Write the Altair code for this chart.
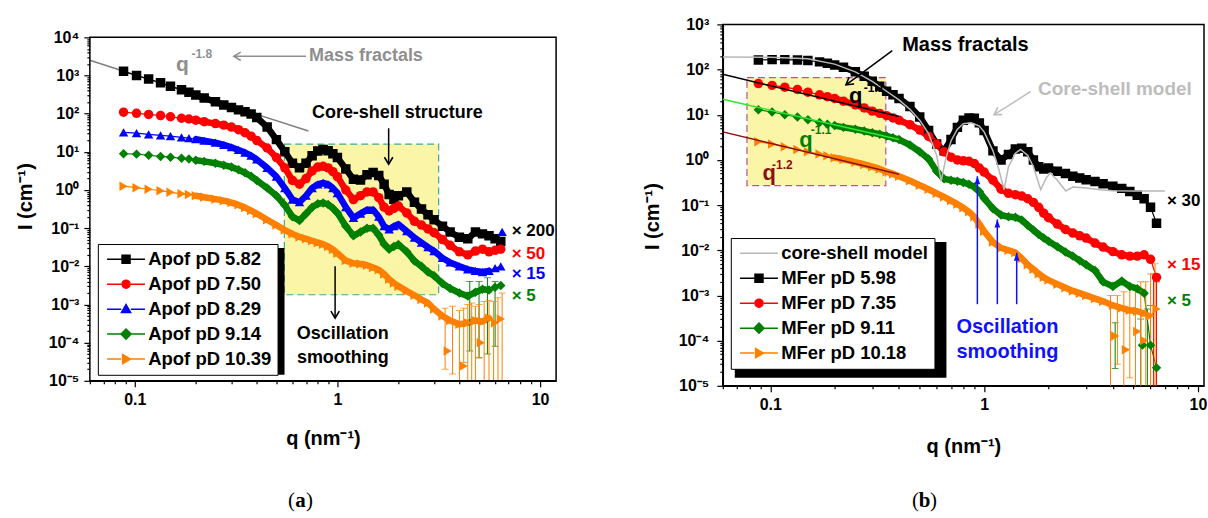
import altair as alt
import pandas as pd

FONT = "Arial, 'Liberation Sans', sans-serif"
SERIF = "'Times New Roman', 'Liberation Serif', serif"

# ---------------- shared q grid (nm^-1) ----------------
q_grid = [0.088, 0.102, 0.117, 0.134, 0.15, 0.17, 0.185, 0.2, 0.22, 0.25, 0.275, 0.3, 0.325, 0.35, 0.375, 0.4,
          0.45, 0.5, 0.55, 0.6, 0.65, 0.7, 0.75, 0.8, 0.85, 0.9, 0.95, 1.0,
          1.1, 1.2, 1.3, 1.4, 1.5, 1.6, 1.7, 1.8, 1.9, 2.0,
          2.2, 2.4, 2.6, 2.8, 3.0, 3.3, 3.6, 4.0, 4.4, 4.8, 5.2, 5.6, 6.0, 6.4]

# ---------------- panel (a): apoferritin, log10 I (cm^-1) ----------------
apof_names = ["Apof pD 5.82", "Apof pD 7.50", "Apof pD 8.29", "Apof pD 9.14", "Apof pD 10.39"]
apof_colors = ["#000000", "#ff0000", "#0000ff", "#008000", "#ff8000"]
apof_shapes = ["square", "circle", "triangle-up", "diamond", "triangle-right"]

apof_582 = [3.11, 3.00, 2.91, 2.81, 2.72, 2.63, 2.56, 2.49, 2.41, 2.31, 2.23, 2.16, 2.10, 2.05, 1.99, 1.90,
            1.65, 1.32, 1.00, 0.70, 0.58, 0.70, 0.90, 1.02, 1.06, 1.03, 0.95, 0.85,
            0.55, 0.28, 0.26, 0.40, 0.46, 0.38, 0.15, -0.12, -0.24, -0.15,
            -0.05, -0.32, -0.50, -0.65, -0.78, -0.95, -1.10, -1.24, -1.28, -1.10, -1.15, -1.20, -1.28, -1.35]
apof_750 = [2.04, 2.01, 1.98, 1.95, 1.92, 1.88, 1.86, 1.83, 1.79, 1.74, 1.70, 1.65, 1.58, 1.50, 1.41, 1.30,
            1.10, 0.85, 0.58, 0.25, 0.15, 0.30, 0.50, 0.60, 0.62, 0.58, 0.48, 0.35,
            0.00, -0.25, -0.15, -0.05, -0.05, -0.20, -0.45, -0.55, -0.48, -0.42,
            -0.60, -0.82, -0.92, -1.02, -1.12, -1.30, -1.45, -1.62, -1.70, -1.60, -1.55, -1.62, -1.58, -1.55]
apof_829 = [1.51, 1.49, 1.46, 1.43, 1.41, 1.38, 1.36, 1.33, 1.29, 1.24, 1.18, 1.12, 1.05, 0.98, 0.90, 0.80,
            0.58, 0.35, 0.05, -0.25, -0.32, -0.15, 0.05, 0.15, 0.19, 0.15, 0.05, -0.08,
            -0.45, -0.73, -0.62, -0.52, -0.52, -0.70, -0.95, -1.03, -0.95, -0.90,
            -1.08, -1.25, -1.38, -1.50, -1.60, -1.78, -1.90, -2.00, -2.08, -2.12, -2.15, -2.12, -2.05, -2.00]
apof_914 = [0.95, 0.94, 0.91, 0.88, 0.86, 0.83, 0.81, 0.78, 0.75, 0.70, 0.65, 0.60, 0.53, 0.45, 0.36, 0.25,
            0.05, -0.15, -0.40, -0.70, -0.80, -0.62, -0.45, -0.36, -0.34, -0.38, -0.48, -0.60,
            -0.95, -1.20, -1.10, -1.00, -1.00, -1.18, -1.42, -1.55, -1.48, -1.43,
            -1.62, -1.86, -2.00, -2.15, -2.25, -2.45, -2.58, -2.70, -2.78, -2.68, -2.60, -2.62, -2.55, -2.50]
apof_1039 = [0.10, 0.06, 0.02, -0.02, -0.06, -0.10, -0.12, -0.15, -0.19, -0.24, -0.28, -0.33, -0.39, -0.46, -0.54, -0.62,
             -0.78, -0.92, -1.05, -1.15, -1.23, -1.28, -1.33, -1.38, -1.42, -1.48, -1.56, -1.66,
             -1.85, -1.92, -1.94, -1.97, -2.03, -2.09, -2.20, -2.34, -2.44, -2.52,
             -2.65, -2.76, -2.87, -2.96, -3.12, -3.30, -3.42, -3.52, -3.48, -3.42, -3.45, -3.36, -3.48, -3.38]

a_err_q = [3.4, 3.7, 4.0, 4.2, 4.4, 4.6, 4.8, 5.0, 5.3, 5.6, 5.9, 6.2, 6.5, 4.5, 5.0, 5.5, 6.0]
a_err_lo = [2.0e-5, 1.5e-5, 5e-6, 3e-5, 5e-6, 5e-6, 5e-6, 4e-5, 5e-6, 5e-6, 5e-6, 5e-6, 5e-6, 6e-5, 4e-5, 5e-5, 8e-5]
a_err_hi = [8e-4, 9e-4, 7e-4, 8e-4, 1e-3, 1.1e-3, 9e-4, 1e-3, 1.2e-3, 1.3e-3, 1.2e-3, 1.5e-3, 2e-3, 4e-3, 4e-3, 5e-3, 4e-3]
a_err_series = ["Apof pD 10.39"] * 13 + ["Apof pD 9.14"] * 4
a_extra_q = [3.5, 4.2, 5.1, 6.5]
a_extra_log = [-4.22, -4.61, -4.00, -1.10]
a_extra_series = ["Apof pD 10.39", "Apof pD 10.39", "Apof pD 10.39", "Apof pD 8.29"]

# ---------------- panel (b): magnetoferritin ----------------
mfer_names = ["core-shell model", "MFer pD 5.98", "MFer pD 7.35", "MFer pD 9.11", "MFer pD 10.18"]
mfer_colors = ["#b8b8b8", "#000000", "#ff0000", "#008000", "#ff8000"]
mfer_shapes = ["square", "circle", "diamond", "triangle-right"]

mfer_598 = [2.21, 2.22, 2.22, 2.21, 2.20, 2.17, 2.14, 2.10, 2.05, 1.95, 1.85, 1.74, 1.63, 1.52, 1.44, 1.36,
            1.18, 0.95, 0.65, 0.35, 0.20, 0.45, 0.72, 0.88, 0.93, 0.92, 0.82, 0.65,
            0.20, 0.00, 0.12, 0.24, 0.26, 0.18, 0.00, -0.15, -0.20, -0.18,
            -0.25, -0.30, -0.36, -0.40, -0.44, -0.48, -0.53, -0.58, -0.63, -0.70, -0.78, -0.86, -1.05, -1.40]
mfer_735 = [1.69, 1.65, 1.61, 1.56, 1.50, 1.44, 1.40, 1.36, 1.30, 1.22, 1.15, 1.08, 1.03, 0.98, 0.93, 0.88,
            0.78, 0.66, 0.52, 0.35, 0.18, 0.06, 0.00, -0.02, -0.03, -0.08, -0.18, -0.27,
            -0.45, -0.65, -0.74, -0.77, -0.80, -0.86, -0.94, -1.05, -1.18, -1.28,
            -1.42, -1.54, -1.62, -1.68, -1.73, -1.84, -1.93, -2.03, -2.10, -2.13, -2.13, -2.10, -2.20, -2.60]
mfer_911 = [1.11, 1.06, 1.00, 0.95, 0.89, 0.83, 0.79, 0.76, 0.72, 0.68, 0.64, 0.60, 0.57, 0.53, 0.49, 0.45,
            0.33, 0.18, 0.02, -0.25, -0.42, -0.45, -0.47, -0.50, -0.54, -0.60, -0.70, -0.85,
            -1.08, -1.22, -1.26, -1.27, -1.33, -1.45, -1.55, -1.65, -1.73, -1.80,
            -1.92, -2.04, -2.13, -2.23, -2.32, -2.45, -2.70, -2.80, -2.68, -2.80, -2.85, -2.95, -4.10, -4.60]
mfer_1018 = [0.40, 0.35, 0.29, 0.23, 0.18, 0.13, 0.09, 0.05, 0.01, -0.05, -0.10, -0.15, -0.20, -0.26, -0.31, -0.36,
             -0.46, -0.56, -0.65, -0.74, -0.82, -0.90, -0.98, -1.06, -1.15, -1.26, -1.42, -1.58,
             -1.82, -1.95, -2.00, -2.05, -2.18, -2.32, -2.42, -2.52, -2.60, -2.66,
             -2.75, -2.83, -2.90, -2.95, -3.00, -3.07, -3.13, -3.22, -3.28, -3.33, -3.35, -3.40, -3.45, -3.30]

cs_q = [0.06, 0.1, 0.15, 0.2, 0.25, 0.3, 0.35, 0.4, 0.45, 0.5,
        0.55, 0.6, 0.63, 0.66, 0.7, 0.75, 0.8, 0.87, 0.95, 1.0,
        1.1, 1.17, 1.24, 1.3, 1.4, 1.48, 1.6, 1.7, 1.84, 1.95,
        2.04, 2.2, 2.41, 2.6, 3.0, 3.5, 4.0, 5.0, 6.0, 7.0]
cs_log = [2.28, 2.27, 2.24, 2.12, 1.95, 1.74, 1.52, 1.33, 1.12, 0.88,
          0.58, 0.10, -0.47, 0.00, 0.42, 0.68, 0.80, 0.82, 0.75, 0.62,
          0.20, -0.20, -0.66, -0.15, 0.15, 0.23, 0.10, -0.15, -0.66, -0.40,
          -0.29, -0.45, -0.69, -0.60, -0.62, -0.66, -0.68, -0.69, -0.69, -0.69]

b_err_q = [3.9, 4.2, 4.5, 4.8, 5.1, 5.4, 5.7, 6.0, 6.3, 4.1, 5.4, 5.8, 6.0, 6.2, 6.4]
b_err_lo = [5e-6, 3e-5, 5e-6, 1.5e-5, 5e-6, 5e-6, 5e-6, 5e-6, 5e-6, 2.4e-5, 5e-6, 5e-6, 5e-6, 5e-6, 5e-6]
b_err_hi = [1e-3, 1e-3, 1.2e-3, 1.5e-3, 1.5e-3, 2e-3, 2e-3, 3e-3, 5e-3, 2.5e-4, 3e-4, 5e-4, 6e-4, 3e-3, 2e-3]
b_err_series = ["MFer pD 10.18"] * 9 + ["MFer pD 9.11"] * 4 + ["MFer pD 7.35"] * 2
b_extra_q = [4.1, 4.6, 5.2, 5.6, 5.5]
b_extra_log = [-3.90, -4.20, -3.80, -4.00, -4.10]
b_extra_series = ["MFer pD 10.18"] * 4 + ["MFer pD 9.11"]

# ---------------- geometry ----------------
W1, H1 = 467, 357          # left group; its plot frame spans y 13..357 inside the group
A_TOP = 13
W2, H2 = 482, 362
XDOM_A, YDOM_A = [0.06, 12], [1e-5, 1e4]
XDOM_B, YDOM_B = [0.06, 10.67], [1e-5, 1e3]

DEC = "abs(log(datum.value)/LN10 - round(log(datum.value)/LN10)) < 0.001"
EXP = "round(log(datum.value)/LN10)"
YLAB = (f"{DEC} ? '10' + ({EXP} < 0 ? '\u207b' : '') + "
        f"substring('\u2070\u00b9\u00b2\u00b3\u2074\u2075\u2076\u2077\u2078\u2079', abs({EXP}), abs({EXP}) + 1) : ''")
XLAB = f"{DEC} ? format(datum.value, '~g') : ''"
TICK = {"condition": {"test": DEC, "value": 6}, "value": 3}


def log_ticks(lo, hi, e0, e1):
    return [m * 10.0 ** e for e in range(e0, e1 + 1) for m in range(1, 10) if lo * 0.999 <= m * 10.0 ** e <= hi * 1.001]


def axis(values, labexpr, title_x=None, title_y=None, is_y=False, label_pad=5, domain=True):
    kw = dict(values=values, labelExpr=labexpr, tickSize=TICK, tickWidth=1.2, tickColor="black",
              domain=domain, domainColor="black", domainWidth=1.5, labelFont=FONT, labelFontSize=16,
              labelFontWeight="bold", labelColor="black", labelPadding=label_pad, labelOverlap=False,
              grid=False, titleFont=FONT, titleFontSize=20, titleFontWeight="bold", titleColor="black",
              titleBaseline="middle")
    if is_y:
        kw.update(titleAngle=270, titleAlign="center", titleX=title_x, titleY=title_y)
    else:
        kw.update(titleY=title_y)
    return alt.Axis(**kw)


def series_df(names, arrays, qs):
    rows = []
    for n, arr in zip(names, arrays):
        for qq, v in zip(qs, arr):
            rows.append({"q": qq, "I": 10 ** v, "series": n})
    return pd.DataFrame(rows)


CHEVRON = "M -1 -0.6 L 0 0 L -1 0.6"
TRI_HEAD = "M 0 0 L -1.7 -0.6 L -1.7 0.6 Z"
LINE_DECOR = "M -4.75 0 L -1.2 0 M 1.2 0 L 4.75 0 "
SHAPE_PATH = {
    "square": "M -1 -1 L 1 -1 L 1 1 L -1 1 Z",
    "circle": "M 1 0 A 1 1 0 1 1 -1 0 A 1 1 0 1 1 1 0 Z",
    "triangle-up": "M 0 -1.15 L 1.15 0.85 L -1.15 0.85 Z",
    "diamond": "M 0 -1.25 L 1.25 0 L 0 1.25 L -1.25 0 Z",
    "triangle-right": "M 1.15 0 L -0.85 -1.15 L -0.85 1.15 Z",
}


def build_panel(xenc, yenc, names, colors, shapes, df, err, extra, legend_x, legend_y, shadow,
                first_is_line=False):
    layers = []
    data_names = names[1:] if first_is_line else names
    data_colors = colors[1:] if first_is_line else colors
    for n, c in zip(data_names, data_colors):
        # thin connecting line over the full range, plus the dense band where the markers overlap
        layers.append(alt.Chart(df).transform_filter(alt.datum.series == n)
                      .mark_line(color=c, strokeWidth=1.2, clip=True).encode(x=xenc, y=yenc))
        layers.append(alt.Chart(df).transform_filter((alt.datum.series == n) & (alt.datum.q >= 0.19)
                                                     & (alt.datum.q <= 5.7))
                      .mark_line(color=c, strokeWidth=6.5, strokeJoin="round", strokeCap="round", clip=True)
                      .encode(x=xenc, y=yenc))
    for n, c in zip(data_names, data_colors):
        e = err[err.series == n]
        if len(e) == 0:
            continue
        layers.append(alt.Chart(e).mark_rule(color=c, strokeWidth=1, clip=True)
                      .encode(x=xenc, y=yenc, y2="I2:Q"))
        caps = pd.concat([e[["q", "I"]], e[["q", "I2"]].rename(columns={"I2": "I"})])
        layers.append(alt.Chart(caps).mark_tick(color=c, orient="horizontal", size=7, thickness=1, clip=True)
                      .encode(x=xenc, y=yenc))
    for n, c, s in zip(data_names, data_colors, shapes):
        layers.append(alt.Chart(df).transform_filter(alt.datum.series == n)
                      .mark_point(shape=s, filled=True, size=90, color=c, opacity=1, clip=True)
                      .encode(x=xenc, y=yenc))
        ex = extra[extra.series == n]
        if len(ex):
            layers.append(alt.Chart(ex).mark_point(shape=s, filled=True, size=90, color=c, opacity=1, clip=True)
                          .encode(x=xenc, y=yenc))
    # legend shadow
    layers.append(alt.Chart(pd.DataFrame({"k": [0]})).mark_rect(color="black")
                  .encode(x=alt.value(shadow[0]), x2=alt.value(shadow[1]),
                          y=alt.value(shadow[2]), y2=alt.value(shadow[3])))
    # legend (built from scale domains only)
    paths = []
    for i, n in enumerate(names):
        if first_is_line and i == 0:
            paths.append("M -4.75 0 L 4.75 0")
        else:
            s = shapes[i - 1] if first_is_line else shapes[i]
            paths.append(LINE_DECOR + SHAPE_PATH[s])
    leg = alt.Legend(orient="none", legendX=legend_x, legendY=legend_y, title=None, fillColor="white",
                     strokeColor="black", padding=6, labelFont=FONT, labelFontSize=18.5,
                     labelFontWeight="bold", labelColor="black", symbolSize=64, symbolStrokeWidth=1.5,
                     rowPadding=6, labelOffset=13, symbolOffset=13, labelLimit=400)
    layers.append(alt.Chart(pd.DataFrame({"series": names})).transform_filter("false")
                  .mark_point(filled=True, opacity=1, size=64)
                  .encode(fill=alt.Fill("series:N", scale=alt.Scale(domain=names, range=colors), legend=leg),
                          stroke=alt.Stroke("series:N", scale=alt.Scale(domain=names, range=colors), legend=leg),
                          shape=alt.Shape("series:N", scale=alt.Scale(domain=names, range=paths), legend=leg)))
    return layers


def text_layer(xenc, yenc, qs, Is, texts, color, size, align="center", weight="bold", limit=None):
    d = pd.DataFrame({"q": qs, "I": Is, "t": texts})
    kw = dict(font=FONT, fontSize=size, fontWeight=weight, color=color, align=align, baseline="middle")
    if limit:
        kw.update(limit=limit, ellipsis="\u200b")
    return alt.Chart(d).mark_text(**kw).encode(x=xenc, y=yenc, text="t:N")


def seg_layer(xenc, yenc, q1, I1, q2, I2, color, width=1.5):
    d = pd.DataFrame({"q": q1, "I": I1, "q2": q2, "I2": I2})
    return alt.Chart(d).mark_rule(color=color, strokeWidth=width).encode(x=xenc, y=yenc, x2="q2:Q", y2="I2:Q")


def head_layer(xenc, yenc, qs, Is, angles, color, path=CHEVRON, size=196, filled=False):
    d = pd.DataFrame({"q": qs, "I": Is, "ang": angles})
    return (alt.Chart(d).mark_point(shape=path, filled=filled, size=size, color=color, strokeWidth=1.6, opacity=1)
            .encode(x=xenc, y=yenc, angle=alt.Angle("ang:Q", scale=None)))


def panel_tag(letter, px, py):
    """'(a)' style caption: regular parentheses around a bold letter."""
    out = []
    for txt, dx, align, weight in [("(", -5.5, "right", "normal"), (letter, 0, "center", "bold"),
                                   (")", 5.5, "left", "normal")]:
        out.append(alt.Chart(pd.DataFrame({"t": [txt]}))
                   .mark_text(font=SERIF, fontSize=21, color="black", align=align, fontWeight=weight,
                              baseline="middle")
                   .encode(x=alt.value(px + dx), y=alt.value(py), text="t:N"))
    return out


# ================= panel (a) =================
xa = alt.X("q:Q", title="q (nm\u207b\u00b9)", scale=alt.Scale(type="log", domain=XDOM_A, nice=False),
           axis=axis(log_ticks(*XDOM_A, -2, 1), XLAB, title_y=58))
ya = alt.Y("I:Q", title="I (cm\u207b\u00b9)",
           scale=alt.Scale(type="log", domain=YDOM_A, nice=False, range=[H1, A_TOP]),
           axis=axis(log_ticks(*YDOM_A, -5, 4), YLAB, title_x=-64, title_y=172, is_y=True, domain=False))

df_a = series_df(apof_names, [apof_582, apof_750, apof_829, apof_914, apof_1039], q_grid)
err_a = pd.DataFrame({"q": a_err_q, "I": a_err_hi, "I2": a_err_lo, "series": a_err_series})
extra_a = pd.DataFrame({"q": a_extra_q, "I": [10 ** v for v in a_extra_log], "series": a_extra_series})

layers_a = [
    alt.Chart(pd.DataFrame({"q": [0.547], "I": [1.8e-3], "q2": [3.16], "I2": [16]}))
    .mark_rect(fill="#fbf5a8", stroke="#3aa9a3", strokeDash=[7, 4], strokeWidth=1.2)
    .encode(x=xa, y=ya, x2="q2:Q", y2="I2:Q"),
    alt.Chart(pd.DataFrame({"q": [0.06, 0.72], "I": [2500, 35]}))
    .mark_line(color="#808080", strokeWidth=1.5).encode(x=xa, y=ya),
]
layers_a += build_panel(xa, ya, apof_names, apof_colors, apof_shapes, df_a, err_a, extra_a,
                        legend_x=8, legend_y=220, shadow=(12, 195, 224, 351))
layers_a += [
    text_layer(xa, ya, [0.172], [1850], ["q"], "#8f8f8f", 21),
    text_layer(xa, ya, [0.214], [3700], ["-1.8"], "#8f8f8f", 12),
    seg_layer(xa, ya, [0.70], [3190], [0.308], [3190], "#8f8f8f"),
    head_layer(xa, ya, [0.308], [3190], [180], "#8f8f8f"),
    text_layer(xa, ya, [0.724], [3190], ["Mass fractals"], "#8f8f8f", 18, align="left"),
    text_layer(xa, ya, [1.975], [104], ["Core-shell structure"], "black", 18),
    seg_layer(xa, ya, [1.79], [41.5], [1.79], [4.73], "black"),
    head_layer(xa, ya, [1.79], [4.73], [90], "black"),
    seg_layer(xa, ya, [0.974], [1.01e-2], [0.974], [4.4e-4], "black"),
    head_layer(xa, ya, [0.974], [4.4e-4], [90], "black"),
    text_layer(xa, ya, [1.063, 1.063], [1.68e-4, 3.95e-5], ["Oscillation", "smoothing"], "black", 18),
    text_layer(xa, ya, [7.25], [0.0832], ["\u00d7 200"], "black", 17, align="left"),
    text_layer(xa, ya, [7.25], [0.0209], ["\u00d7 50"], "#ff0000", 17, align="left"),
    text_layer(xa, ya, [7.25], [6.3e-3], ["\u00d7 15"], "#0000ff", 17, align="left"),
    text_layer(xa, ya, [7.25], [1.66e-3], ["\u00d7 5"], "#008000", 17, align="left"),
    # plot frame (the view itself is taller so that this panel sits lower than panel b)
    alt.Chart(pd.DataFrame({"k": [0]})).mark_rect(fill="transparent", stroke="black", strokeWidth=1.5)
    .encode(x=alt.value(0), x2=alt.value(W1), y=alt.value(A_TOP), y2=alt.value(H1)),
]
layers_a += panel_tag("a", 211, 477)
panel_a = alt.layer(*layers_a).properties(width=W1, height=H1,
                                          view=alt.ViewBackground(stroke="transparent"))

# ================= panel (b) =================
xb = alt.X("q:Q", title="q (nm\u207b\u00b9)", scale=alt.Scale(type="log", domain=XDOM_B, nice=False),
           axis=axis(log_ticks(*XDOM_B, -2, 1), XLAB, title_y=61))
yb = alt.Y("I:Q", title="I (cm\u207b\u00b9)", scale=alt.Scale(type="log", domain=YDOM_B, nice=False),
           axis=axis(log_ticks(*YDOM_B, -5, 3), YLAB, title_x=-70, title_y=192, is_y=True, label_pad=8))

df_b = series_df(mfer_names[1:], [mfer_598, mfer_735, mfer_911, mfer_1018], q_grid)
err_b = pd.DataFrame({"q": b_err_q, "I": b_err_hi, "I2": b_err_lo, "series": b_err_series})
extra_b = pd.DataFrame({"q": b_extra_q, "I": [10 ** v for v in b_extra_log], "series": b_extra_series})
cs_df = pd.DataFrame({"q": cs_q, "I": [10 ** v for v in cs_log]})

layers_b = [
    alt.Chart(pd.DataFrame({"q": [0.0778], "I": [0.27], "q2": [0.347], "I2": [66]}))
    .mark_rect(fill="#fbf5a8", stroke="#b5559d", strokeDash=[7, 4], strokeWidth=1.2)
    .encode(x=xb, y=yb, x2="q2:Q", y2="I2:Q"),
]
layers_b += build_panel(xb, yb, mfer_names, mfer_colors, mfer_shapes, df_b, err_b, extra_b,
                        legend_x=8, legend_y=214, shadow=(12, 224, 218, 354), first_is_line=True)
layers_b += [
    alt.Chart(cs_df).mark_line(color="#b8b8b8", strokeWidth=1.5, clip=True).encode(x=xb, y=yb),
    seg_layer(xb, yb, [0.06], [78.7], [0.4], [9.1], "black"),
    seg_layer(xb, yb, [0.06], [21.9], [0.4], [2.82], "#2ee82e"),
    seg_layer(xb, yb, [0.06], [4.17], [0.4], [0.48], "#8b1010"),
    text_layer(xb, yb, [0.251], [25.4], ["q"], "black", 22),
    text_layer(xb, yb, [0.306], [39.8], ["-1.1"], "black", 12),
    text_layer(xb, yb, [0.147], [2.8], ["q"], "#008000", 22),
    text_layer(xb, yb, [0.173], [4.67], ["-1.1"], "#008000", 12),
    text_layer(xb, yb, [0.099], [0.514], ["q"], "#8b1010", 22),
    text_layer(xb, yb, [0.114], [0.787], ["-1.2"], "#8b1010", 12),
    text_layer(xb, yb, [0.414], [351], ["Mass fractals"], "black", 20, align="left"),
    seg_layer(xb, yb, [0.372], [263], [0.226], [45.9], "black"),
    head_layer(xb, yb, [0.226], [45.9], [143], "black"),
    text_layer(xb, yb, [4.09], [37.5], ["Core-shell model"], "#bdbdbd", 19),
    seg_layer(xb, yb, [1.652], [32.7], [1.113], [10], "#bdbdbd"),
    head_layer(xb, yb, [1.113], [10], [148], "#bdbdbd"),
    seg_layer(xb, yb, [0.93, 1.153, 1.42], [6.4e-4] * 3, [0.93, 1.153, 1.42], [0.435, 0.048, 8.8e-3],
              "#1010ff"),
    head_layer(xb, yb, [0.93, 1.153, 1.42], [0.435, 0.048, 8.8e-3], [270, 270, 270], "#1010ff",
               path=TRI_HEAD, size=90, filled=True),
    text_layer(xb, yb, [1.285, 1.285], [1.95e-4, 5.46e-5], ["Oscillation", "smoothing"], "#1010ff", 20),
    text_layer(xb, yb, [7.16], [0.122], ["\u00d7 300"], "black", 17, align="left", limit=38),
    text_layer(xb, yb, [7.16], [4.7e-3], ["\u00d7 15"], "#ff0000", 17, align="left", limit=38),
    text_layer(xb, yb, [7.16], [7.6e-4], ["\u00d7 5"], "#008000", 17, align="left", limit=38),
]
layers_b += panel_tag("b", 202, 477)
panel_b = alt.layer(*layers_b).properties(width=W2, height=H2)

chart = (alt.hconcat(panel_a, panel_b, spacing=167, bounds="flush")
         .resolve_scale(x="independent", y="independent", fill="independent", stroke="independent",
                        shape="independent")
         .resolve_legend(fill="independent", stroke="independent", shape="independent")
         .properties(padding={"left": 15, "top": 15, "right": 0, "bottom": 0}, background="white")
         .configure_view(stroke="black", strokeWidth=1.5))

chart.save("out.html", embed_options={"renderer": "svg", "actions": False})
